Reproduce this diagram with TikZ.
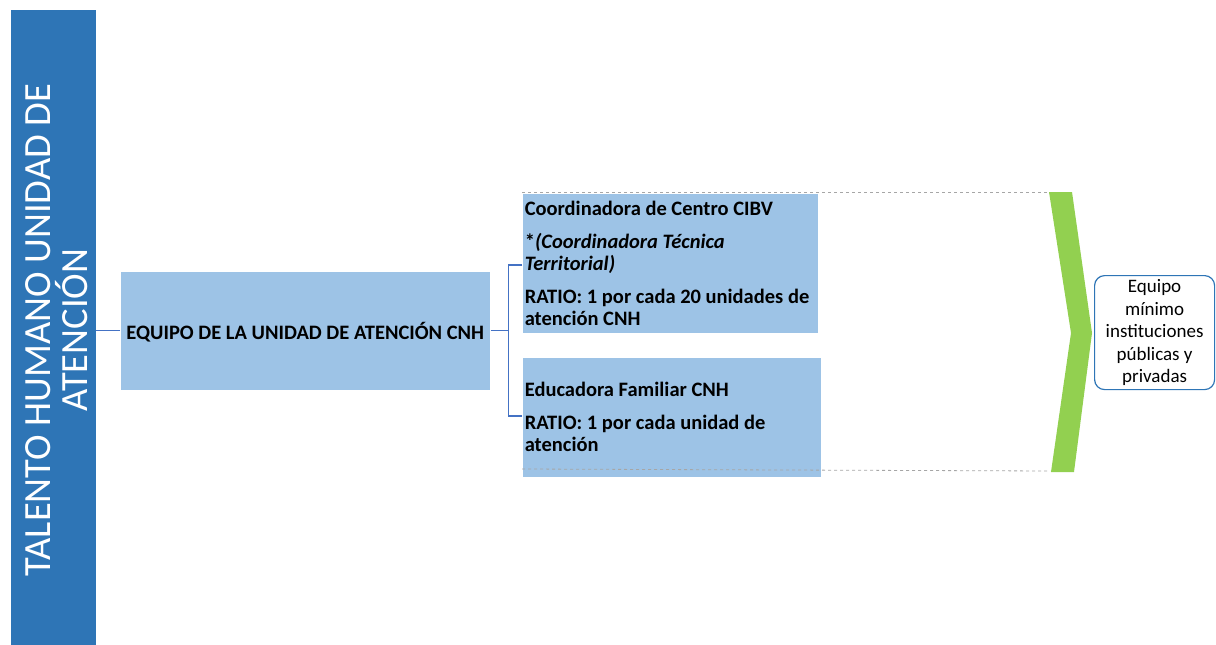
\documentclass[tikz,border=0pt]{standalone}
\usepackage{fontspec}
\setmainfont{Carlito}
\definecolor{barblue}{HTML}{2E75B6}
\definecolor{boxblue}{HTML}{9DC3E6}
\definecolor{lineblue}{HTML}{4472C4}
\definecolor{chevgreen}{HTML}{92D050}
\definecolor{dashgray}{HTML}{A6A6A6}
\definecolor{rbblue}{HTML}{2E75B6}
\begin{document}
\begin{tikzpicture}[x=1pt,y=-1pt,
  box/.style={fill=boxblue, draw=white, line width=0.6pt, anchor=north west},
  conn/.style={draw=lineblue, line width=1.3pt},
  guide/.style={draw=dashgray, dashed, line width=0.8pt},
  boldtxt/.style={font=\bfseries\fontsize{20.5}{22}\selectfont}]
\useasboundingbox (0,0) rectangle (1216,645);
% left bar
\node[fill=barblue, minimum width=85pt, minimum height=635pt, anchor=north west, inner sep=0pt] (bar) at (11,10) {};
\node[rotate=90, text=white, font=\fontsize{38.5}{37}\selectfont, align=center] (bartext) at (57,330) {TALENTO HUMANO UNIDAD DE\\ATENCIÓN};
% main box
\node[box, minimum width=370pt, minimum height=119pt, inner sep=0pt, boldtxt, text depth=0pt] (main) at (120,271) {EQUIPO DE LA UNIDAD DE ATENCIÓN CNH};
% sub boxes
\node[box, minimum height=140pt, text width=291pt, inner xsep=2.5pt, inner ysep=0pt, align=flush left, boldtxt] (box1) at (522,193)
 {Coordinadora de Centro CIBV\\[11pt]*\textit{(Coordinadora Técnica Territorial)}\\[11pt]RATIO: 1 por cada 20 unidades de atención CNH};
\node[box, minimum height=120pt, text width=294pt, inner xsep=2.5pt, inner ysep=0pt, align=flush left, boldtxt] (box2) at (522,357)
 {Educadora Familiar CNH\\[11pt]RATIO: 1 por cada unidad de atención};
% connectors
\draw[conn] (main.west) -- (main.west -| bar.east);
\coordinate (fork) at ([xshift=18pt]main.east);
\coordinate (t1) at (522,265);
\coordinate (t2) at (522,416);
\draw[conn] (main.east) -- (fork);
\draw[conn] (t1) -| (fork) |- (t2);
% chevron
\coordinate (c1) at (1049,192);
\coordinate (c2) at (1072,192);
\coordinate (c3) at (1092,333);
\coordinate (c4) at (1074,472);
\coordinate (c5) at (1051,472);
\coordinate (c6) at (1071,333);
\coordinate (g1) at (522,192);
\coordinate (g2) at (522,469);
\coordinate (g3) at (1050,471);
\draw[guide] (g1) -- (c1);
\draw[guide] (g2) -- (g3);
\fill[chevgreen] (c1) -- (c2) -- (c3) -- (c4) -- (c5) -- (c6) -- cycle;
% result box
\node[draw=rbblue, fill=white, rounded corners=10pt, line width=1.2pt, minimum width=120pt, minimum height=114pt, anchor=north west, align=center, inner sep=0pt, font=\fontsize{19}{22.5}\selectfont] (res) at (1094,275)
 {Equipo\\mínimo\\instituciones\\públicas y\\privadas};
\end{tikzpicture}
\end{document}
